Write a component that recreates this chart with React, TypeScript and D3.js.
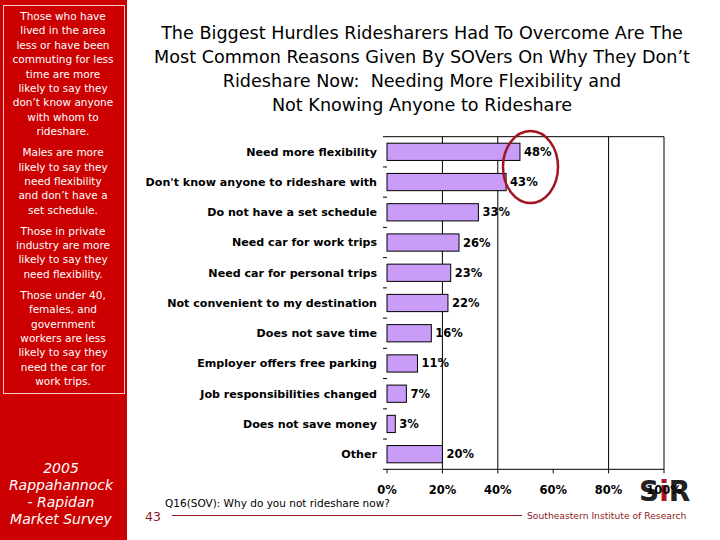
import React from 'react';
import * as d3 from 'd3';

const categories = [
  'Need more flexibility',
  "Don't know anyone to rideshare with",
  'Do not have a set schedule',
  'Need car for work trips',
  'Need car for personal trips',
  'Not convenient to my destination',
  'Does not save time',
  'Employer offers free parking',
  'Job responsibilities changed',
  'Does not save money',
  'Other',
];
const values = [48, 43, 33, 26, 23, 22, 16, 11, 7, 3, 20];
const xTicks = [0, 20, 40, 60, 80, 100];
const gridTicks = [20, 40, 80, 100];

const titleLines = [
  'The Biggest Hurdles Ridesharers Had To Overcome Are The',
  'Most Common Reasons Given By SOVers On Why They Don\u2019t',
  'Rideshare Now:  Needing More Flexibility and',
  'Not Knowing Anyone to Rideshare',
];

const sideNotes = [
  ['Those who have', 'lived in the area', 'less or have been', 'commuting for less', 'time are more', 'likely to say they', 'don\u2019t know anyone', 'with whom to', 'rideshare.'],
  ['Males are more', 'likely to say they', 'need flexibility', 'and don\u2019t have a', 'set schedule.'],
  ['Those in private', 'industry are more', 'likely to say they', 'need flexibility.'],
  ['Those under 40,', 'females, and', 'government', 'workers are less', 'likely to say they', 'need the car for', 'work trips.'],
];
const surveyLines = ['2005', 'Rappahannock', '- Rapidan', 'Market Survey'];

const FONT = '"DejaVu Sans", Verdana, sans-serif';
const DARK_RED = '#8E1B24';

export default function App() {
  const x = d3.scaleLinear().domain([0, 100]).range([387, 664]);
  const y = d3
    .scaleBand<string>()
    .domain(categories)
    .range([136.7, 469.3])
    .paddingInner(0.43)
    .paddingOuter(0.215);
  const [top, bottom] = y.range();
  const step = y.step();
  const left = x(0) - 4;

  // y positions where each note block starts
  let cursor = 20;
  const noteBlocks = sideNotes.map((lines) => {
    const start = cursor;
    cursor += lines.length * 14.4 + 6.5;
    return { lines, start };
  });

  return (
    <svg
      width={720}
      height={540}
      style={{ position: 'fixed', left: 0, top: 0, background: '#fff' }}
      fontFamily={FONT}
    >
      {/* left red panel */}
      <rect x={0} y={0} width={127} height={540} fill="#CC0000" />
      <rect x={3.5} y={5.5} width={121} height={388} fill="none" stroke="#F4C8C8" strokeWidth={1} />
      {noteBlocks.map((b, bi) =>
        b.lines.map((line, li) => (
          <text
            key={`${bi}-${li}`}
            x={63}
            y={b.start + li * 14.4}
            textAnchor="middle"
            fontSize={10.5}
            fill="#fff"
          >
            {line}
          </text>
        ))
      )}
      {surveyLines.map((line, i) => (
        <text
          key={line}
          x={61}
          y={473 + i * 17}
          textAnchor="middle"
          fontSize={14}
          fontStyle="italic"
          fill="#fff"
        >
          {line}
        </text>
      ))}

      {/* title */}
      {titleLines.map((line, i) => (
        <text
          key={i}
          x={422}
          y={39 + i * 24}
          textAnchor="middle"
          fontSize={17.6}
          fill="#000"
          style={{ whiteSpace: 'pre' }}
        >
          {line}
        </text>
      ))}

      {/* gridlines and frame */}
      {gridTicks.map((t) => (
        <line key={t} x1={x(t)} x2={x(t)} y1={top} y2={bottom} stroke="#000" strokeWidth={1} />
      ))}
      <line x1={left} x2={x(100)} y1={top} y2={top} stroke="#000" />
      <line x1={left} x2={x(100)} y1={bottom} y2={bottom} stroke="#000" />
      {xTicks.map((t) => (
        <line key={t} x1={x(t)} x2={x(t)} y1={bottom} y2={bottom + 4} stroke="#000" />
      ))}
      {d3.range(1, categories.length).map((k) => (
        <line key={k} x1={left} x2={x(0)} y1={top + k * step} y2={top + k * step} stroke="#000" />
      ))}

      {/* bars */}
      {categories.map((c, i) => {
        const y0 = y(c) as number;
        return (
          <g key={c}>
            <rect
              x={x(0)}
              y={y0}
              width={x(values[i]) - x(0)}
              height={y.bandwidth()}
              fill="#C99DF7"
              stroke="#000"
              strokeWidth={1}
            />
            <text
              x={377}
              y={y0 + y.bandwidth() / 2}
              dy="0.35em"
              textAnchor="end"
              fontSize={11.1}
              fontWeight="bold"
              fill="#000"
            >
              {c}
            </text>
            <text
              x={x(values[i]) + 4}
              y={y0 + y.bandwidth() / 2}
              dy="0.35em"
              fontSize={11.5}
              fontWeight="bold"
              fill="#000"
            >
              {values[i]}%
            </text>
          </g>
        );
      })}

      {/* highlight ellipse */}
      <ellipse cx={530.5} cy={167} rx={27.5} ry={36} fill="none" stroke="#A3141E" strokeWidth={2.5} />

      {/* logo */}
      <text x={639} y={501} fontSize={28} fontWeight="900" fill="#222" fontFamily='"DejaVu Sans", sans-serif'>
        S<tspan fill="#B0101C">i</tspan>R
      </text>

      {/* x axis labels */}
      {xTicks.map((t) => (
        <text key={t} x={x(t)} y={494} textAnchor="middle" fontSize={11.5} fontWeight="bold" fill="#000">
          {t}%
        </text>
      ))}

      {/* footer */}
      <text x={165} y={507} fontSize={10.5} fill="#000">
        Q16(SOV): Why do you not rideshare now?
      </text>
      <text x={145} y={521} fontSize={12.5} fill={DARK_RED}>
        43
      </text>
      <line x1={172} x2={522} y1={515.5} y2={515.5} stroke={DARK_RED} strokeWidth={1} />
      <text x={527} y={519} fontSize={9.2} fill={DARK_RED}>
        Southeastern Institute of Research
      </text>
    </svg>
  );
}
